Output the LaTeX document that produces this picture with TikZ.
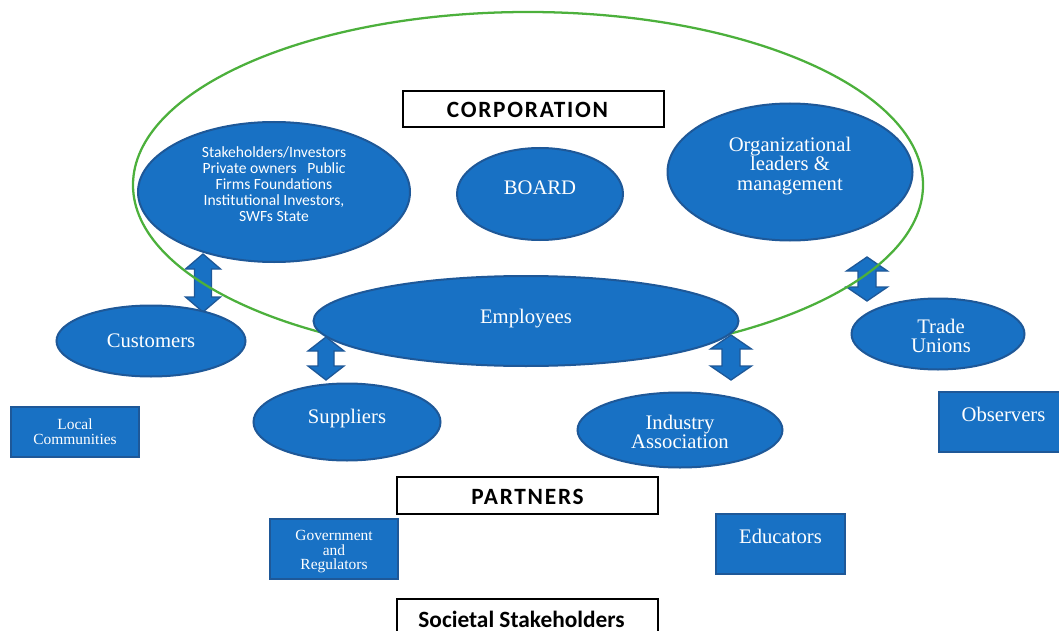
\documentclass[tikz,border=0pt]{standalone}
\usepackage{fontspec}
\setmainfont{Liberation Serif}
\newfontfamily\calfont{Carlito}
\newfontfamily\calspaced{Carlito}[LetterSpace=7.5]
\usetikzlibrary{shapes.geometric}
\definecolor{blobfill}{RGB}{24,113,196}
\definecolor{blobline}{RGB}{30,88,152}
\definecolor{ringgreen}{RGB}{76,176,60}
\newcommand\pxu{0.75pt}
\newcommand\udarrow[6]{% cx, ytop, ybot, head half width, shaft half width, head length
  \filldraw[arrowshape] (#1,#2) -- (#1+#4,#2+#6) -- (#1+#5,#2+#6) -- (#1+#5,#3-#6) -- (#1+#4,#3-#6) -- (#1,#3)
    -- (#1-#4,#3-#6) -- (#1-#5,#3-#6) -- (#1-#5,#2+#6) -- (#1-#4,#2+#6) -- cycle;}
\tikzset{
  blob/.style={ellipse, fill=blobfill, draw=blobline, line width=1.5pt, inner sep=0pt, text=white, align=center},
  bluebox/.style={rectangle, fill=blobfill, draw=blobline, line width=1.5pt, inner sep=0pt, text=white, align=center},
  whitebox/.style={rectangle, fill=white, draw=black, line width=0.8pt, inner sep=0pt, align=center},
  headfont/.style={font=\calfont\bfseries\fontsize{17.5}{20}\selectfont},
  capsfont/.style={font=\calspaced\bfseries\fontsize{17.5}{20}\selectfont},
  serifbig/.style={font=\fontsize{15.5}{14.6}\selectfont},
  serifsmall/.style={font=\fontsize{11.6}{11}\selectfont},
  arrowshape/.style={fill=blobfill, draw=blobline, line width=1pt, line join=miter},
  wtext/.style={text=white, align=center, inner sep=0pt}
}
\begin{document}
\begin{tikzpicture}[x=0.75pt, y=-0.75pt]
\useasboundingbox (0,0) rectangle (1059,631);
\clip (0,0) rectangle (1059,631);
% block double arrows
\udarrow{203}{254}{312}{17.5}{8.5}{15}
\udarrow{326}{337}{380}{18}{8}{14}
\udarrow{731}{335}{380}{20.5}{9}{14}
\udarrow{867}{257}{301}{20.5}{9}{14}
% corporation ring
\draw[ringgreen, line width=1.7pt] (528,185) ellipse [x radius=395, y radius=173];
% corporation members
\node[whitebox, minimum width={261*\pxu}, minimum height={36*\pxu}] (corp) at (533.5,109) {};
\node[capsfont, inner sep=0pt] (corptext) at (527.5,110) {CORPORATION};
\node[blob, minimum width={272*\pxu}, minimum height={140*\pxu}] (stake) at (274,192) {};
\node[wtext, font=\calfont\fontsize{11.7}{12}\selectfont] (staketext) at (274,184) {Stakeholders/Investors\\Private owners\ \ \ Public\\Firms Foundations\\Institutional Investors,\\SWFs State};
\node[blob, minimum width={166*\pxu}, minimum height={92*\pxu}] (board) at (540,194) {};
\node[wtext, serifbig] (boardtext) at (540,188) {BOARD};
\node[blob, minimum width={245*\pxu}, minimum height={137*\pxu}] (org) at (790,172) {};
\node[wtext, serifbig] (orgtext) at (790,166) {Organizational\\leaders \&\\management};
\node[blob, minimum width={425*\pxu}, minimum height={90*\pxu}] (emp) at (526,321) {};
\node[wtext, serifbig] (emptext) at (526,319) {Employees};
% partners
\node[blob, serifbig, minimum width={189*\pxu}, minimum height={71*\pxu}] (cust) at (151,341) {Customers};
\node[blob, minimum width={173*\pxu}, minimum height={71*\pxu}] (trade) at (938,334) {};
\node[wtext, serifbig] (tradetext) at (941,336) {Trade\\Unions};
\node[blob, minimum width={187*\pxu}, minimum height={77*\pxu}] (supp) at (347,422) {};
\node[wtext, serifbig] (supptext) at (347,419) {Suppliers};
\node[blob, minimum width={205*\pxu}, minimum height={75*\pxu}] (ind) at (680,430) {};
\node[wtext, serifbig] (indtext) at (680,432) {Industry\\Association};
\node[whitebox, minimum width={261*\pxu}, minimum height={37*\pxu}] (partners) at (527.5,495.5) {};
\node[capsfont, inner sep=0pt] (partnerstext) at (527.5,497) {PARTNERS};
% societal stakeholders
\node[bluebox, serifsmall, minimum width={128*\pxu}, minimum height={50*\pxu}] (local) at (75,432) {Local\\Communities};
\node[bluebox, minimum width={130*\pxu}, minimum height={60*\pxu}] (obs) at (1004,422) {};
\node[wtext, serifbig] (obstext) at (1003.5,414) {Observers};
\node[bluebox, minimum width={128*\pxu}, minimum height={60*\pxu}] (gov) at (334,549) {};
\node[wtext, font=\fontsize{11.6}{10.9}\selectfont] (govtext) at (334,552) {Government\\and\\Regulators};
\node[bluebox, minimum width={129*\pxu}, minimum height={60*\pxu}] (edu) at (780.5,544) {};
\node[wtext, serifbig] (edutext) at (780.5,536) {Educators};
\node[whitebox, minimum width={261*\pxu}, minimum height={40*\pxu}] (soc) at (527.5,619) {};
\node[headfont, inner sep=0pt] (soctext) at (521.5,619) {Societal Stakeholders};
\end{tikzpicture}
\end{document}
